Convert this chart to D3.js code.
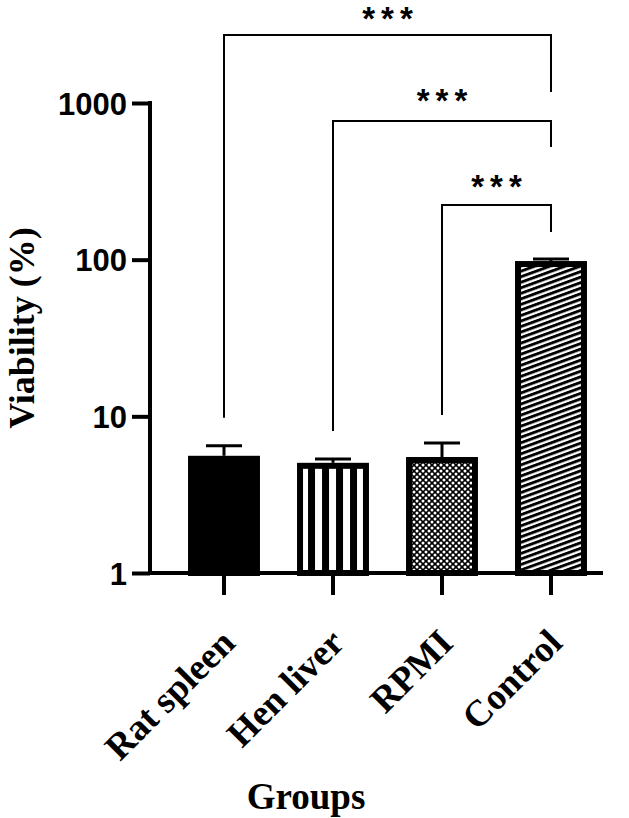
<!DOCTYPE html>
<html>
    <head>
        <meta charset="utf-8">
        <title>Viability by group</title>
        <script type="text/javascript" src="https://cdn.jsdelivr.net/npm/d3@7"></script>
        <style type="text/css">
            body { margin: 0; background: #fff; }
        </style>
    </head>
    <body>
        <script type="text/javascript">

            var groups = ["Rat spleen", "Hen liver", "RPMI", "Control"];
            var viability = [5.6, 5.05, 5.5, 98];
            var viabilityErr = [0.9, 0.3, 1.25, 3];
            var yTicks = [1, 10, 100, 1000];
            var comparisons = [["Rat spleen", "Control"], ["Hen liver", "Control"], ["RPMI", "Control"]];
            var compLabels = ["***", "***", "***"];

            var width = 629, height = 818;
            var axisY = 573, axisX = 150;

            var svg = d3.select("body").append("svg")
                .attr("width", width)
                .attr("height", height);

            var xScale = d3.scaleBand()
                .domain(groups)
                .range([169.5, 605.5])
                .paddingInner(0.34)
                .paddingOuter(0.17);

            var yScale = d3.scaleLog()
                .domain([1, 1000])
                .range([axisY, 103]);

            // patterns
            var defs = svg.append("defs");

            var stripes = defs.append("pattern")
                .attr("id", "vstripes")
                .attr("patternUnits", "userSpaceOnUse")
                .attr("x", xScale("Hen liver") + 4)
                .attr("y", 0)
                .attr("width", 14)
                .attr("height", 10);
            stripes.append("rect").attr("width", 14).attr("height", 10).attr("fill", "#fff");
            stripes.append("rect").attr("x", 7).attr("width", 7).attr("height", 10).attr("fill", "#000");

            var checks = defs.append("pattern")
                .attr("id", "checks")
                .attr("patternUnits", "userSpaceOnUse")
                .attr("width", 6)
                .attr("height", 6);
            checks.append("rect").attr("width", 6).attr("height", 6).attr("fill", "#000");
            [[0, 0], [6, 0], [0, 6], [6, 6], [3, 3]].forEach(function (p) {
                checks.append("circle").attr("cx", p[0]).attr("cy", p[1]).attr("r", 1.5).attr("fill", "#fff");
            });

            var diag = defs.append("pattern")
                .attr("id", "diag")
                .attr("patternUnits", "userSpaceOnUse")
                .attr("width", 20)
                .attr("height", 5.2)
                .attr("patternTransform", "rotate(-20)");
            diag.append("rect").attr("width", 20).attr("height", 5.2).attr("fill", "#fff");
            diag.append("rect").attr("width", 20).attr("height", 2.9).attr("fill", "#000");

            var fills = ["#000", "url(#vstripes)", "url(#checks)", "url(#diag)"];

            var data = groups.map(function (g, i) {
                return { group: g, value: viability[i], err: viabilityErr[i], fill: fills[i] };
            });

            // bars
            var bw = xScale.bandwidth();
            svg.append("g").attr("id", "bars")
                .selectAll("rect")
                .data(data)
                .enter()
                .append("rect")
                    .attr("x", function (d) { return xScale(d.group) + 3; })
                    .attr("y", function (d) { return yScale(d.value) + 3; })
                    .attr("width", bw - 6)
                    .attr("height", function (d) { return axisY - yScale(d.value) - 3; })
                    .attr("fill", function (d) { return d.fill; })
                    .attr("stroke", "#000")
                    .attr("stroke-width", 6);

            // error bars
            var errG = svg.append("g").attr("id", "errors");
            errG.selectAll("line.v")
                .data(data)
                .enter()
                .append("line")
                    .attr("class", "v")
                    .attr("x1", function (d) { return xScale(d.group) + bw / 2; })
                    .attr("x2", function (d) { return xScale(d.group) + bw / 2; })
                    .attr("y1", function (d) { return yScale(d.value); })
                    .attr("y2", function (d) { return yScale(d.value + d.err); })
                    .attr("stroke", "#000")
                    .attr("stroke-width", 3);
            errG.selectAll("line.cap")
                .data(data)
                .enter()
                .append("line")
                    .attr("class", "cap")
                    .attr("x1", function (d) { return xScale(d.group) + bw / 2 - 18; })
                    .attr("x2", function (d) { return xScale(d.group) + bw / 2 + 18; })
                    .attr("y1", function (d) { return yScale(d.value + d.err); })
                    .attr("y2", function (d) { return yScale(d.value + d.err); })
                    .attr("stroke", "#000")
                    .attr("stroke-width", 3);

            // axes
            function yAxis(g) {
                g.attr("transform", "translate(" + axisX + ",0)")
                    .call(d3.axisLeft(yScale).tickValues(yTicks).tickFormat(d3.format("d")).tickSize(18).tickPadding(5).tickSizeOuter(0));
                g.select(".domain").remove();
                g.append("line").attr("y1", 101).attr("y2", axisY + 2).attr("stroke", "#000").attr("stroke-width", 4);
                g.selectAll(".tick line").attr("stroke-width", 4);
                g.selectAll(".tick text")
                    .attr("font-family", "Liberation Sans, Arial, sans-serif")
                    .attr("font-weight", "bold")
                    .attr("font-size", 31)
                    .attr("fill", "#000")
                    .attr("dy", "0.36em");
            }

            function xAxis(g) {
                g.attr("transform", "translate(0," + axisY + ")")
                    .call(d3.axisBottom(xScale).tickSize(22).tickSizeOuter(0).tickFormat(""));
                g.select(".domain").remove();
                g.append("line").attr("x1", axisX - 2).attr("x2", 603).attr("stroke", "#000").attr("stroke-width", 4);
                g.selectAll(".tick line").attr("stroke-width", 4);
                g.selectAll(".tick").append("text")
                    .attr("transform", "translate(13,72) rotate(-45)")
                    .attr("text-anchor", "end")
                    .attr("font-family", "Liberation Serif, Times New Roman, serif")
                    .attr("font-weight", "bold")
                    .attr("font-size", 37)
                    .attr("fill", "#000")
                    .text(function (d) { return d; });
            }

            svg.append("g").call(yAxis);
            svg.append("g").call(xAxis);

            // axis titles
            svg.append("text")
                .attr("transform", "translate(34,328) rotate(-90)")
                .attr("text-anchor", "middle")
                .attr("font-family", "Liberation Serif, Times New Roman, serif")
                .attr("font-weight", "bold")
                .attr("font-size", 36)
                .text("Viability (%)");

            svg.append("text")
                .attr("x", 306)
                .attr("y", 809)
                .attr("text-anchor", "middle")
                .attr("font-family", "Liberation Serif, Times New Roman, serif")
                .attr("font-weight", "bold")
                .attr("font-size", 37)
                .text("Groups");

            // significance brackets
            var bracketY = [35, 121, 205];
            var rightEnd = [92, 147, 232];
            var starY = [12, 94, 180];
            var brG = svg.append("g").attr("id", "brackets");
            comparisons.forEach(function (c, i) {
                var i0 = groups.indexOf(c[0]);
                var x0 = xScale(c[0]) + bw / 2;
                var x1 = xScale(c[1]) + bw / 2;
                var leftEnd = yScale(viability[i0] + viabilityErr[i0]) - 28;
                brG.append("path")
                    .attr("d", "M" + x0 + "," + leftEnd + "V" + bracketY[i] + "H" + x1 + "V" + rightEnd[i])
                    .attr("fill", "none")
                    .attr("stroke", "#000")
                    .attr("stroke-width", 2);
                brG.append("text")
                    .attr("x", (x0 + x1) / 2 + 3)
                    .attr("y", starY[i])
                    .attr("dy", "0.55em")
                    .attr("text-anchor", "middle")
                    .attr("font-family", "Liberation Sans, Arial, sans-serif")
                    .attr("font-weight", "bold")
                    .attr("font-size", 33)
                    .attr("letter-spacing", 6)
                    .text(compLabels[i]);
            });

        </script>
    </body>
</html>
